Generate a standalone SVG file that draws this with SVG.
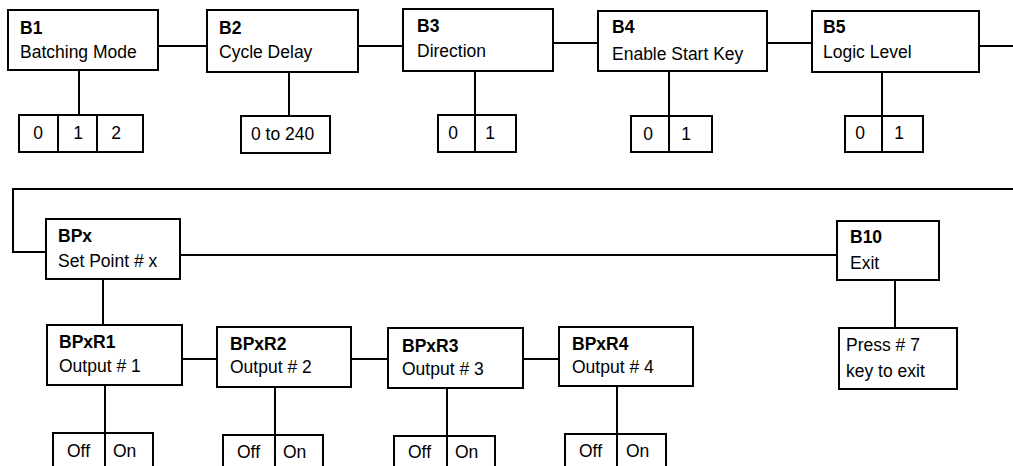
<svg xmlns="http://www.w3.org/2000/svg" width="1013" height="466" viewBox="0 0 1013 466">
<style>
rect{fill:#fff;stroke:#000;stroke-width:2}
line,polyline{stroke:#000;stroke-width:2;fill:none}
text{font-family:"Liberation Sans",Arial,sans-serif;font-size:17.5px;fill:#000}
.b{font-weight:bold}
.m{text-anchor:middle}
</style>
<rect x="0" y="0" width="1013" height="466" style="stroke:none"/>
<g id="connectors">
<line x1="158" y1="46" x2="207" y2="46"/>
<line x1="358" y1="46" x2="403" y2="46"/>
<line x1="553" y1="43" x2="598" y2="43"/>
<line x1="767" y1="43" x2="812" y2="43"/>
<line x1="979" y1="46" x2="1013" y2="46"/>
<line x1="79" y1="70" x2="79" y2="115"/>
<line x1="289" y1="72" x2="289" y2="116"/>
<line x1="475" y1="71" x2="475" y2="115"/>
<line x1="669" y1="71" x2="669" y2="116"/>
<line x1="882" y1="72" x2="882" y2="116"/>
<polyline points="1013,189 13,189 13,252 46,252"/>
<line x1="180" y1="255" x2="837" y2="255"/>
<line x1="895" y1="280" x2="895" y2="328"/>
<line x1="103" y1="279" x2="103" y2="325"/>
<line x1="182" y1="359" x2="217" y2="359"/>
<line x1="351" y1="359" x2="388" y2="359"/>
<line x1="523" y1="359" x2="559" y2="359"/>
<line x1="105" y1="385" x2="105" y2="433"/>
<line x1="275" y1="387" x2="275" y2="435"/>
<line x1="447" y1="388" x2="447" y2="436"/>
<line x1="617" y1="386" x2="617" y2="434"/>
</g>
<g id="B1"><rect x="8" y="10" width="150" height="60"/><text x="20" y="34" class="b">B1</text><text x="20" y="58">Batching Mode</text></g>
<g id="B1-options"><rect x="19" y="115" width="124" height="37"/><line x1="58" y1="115" x2="58" y2="152"/><line x1="97" y1="115" x2="97" y2="152"/><text x="38" y="139" class="m">0</text><text x="78" y="139" class="m">1</text><text x="116" y="139" class="m">2</text></g>
<g id="B2"><rect x="207" y="10" width="151" height="62"/><text x="219" y="34" class="b">B2</text><text x="219" y="58">Cycle Delay</text></g>
<g id="B2-options"><rect x="241" y="116" width="89" height="37"/><text x="251" y="140">0 to 240</text></g>
<g id="B3"><rect x="403" y="9" width="150" height="62"/><text x="417" y="32" class="b">B3</text><text x="417" y="57">Direction</text></g>
<g id="B3-options"><rect x="438" y="115" width="78" height="37"/><line x1="475" y1="115" x2="475" y2="152"/><text x="453" y="139" class="m">0</text><text x="490" y="139" class="m">1</text></g>
<g id="B4"><rect x="598" y="11" width="169" height="60"/><text x="612" y="33" class="b">B4</text><text x="612" y="60">Enable Start Key</text></g>
<g id="B4-options"><rect x="631" y="116" width="81" height="36"/><line x1="669" y1="116" x2="669" y2="152"/><text x="648" y="140" class="m">0</text><text x="686" y="140" class="m">1</text></g>
<g id="B5"><rect x="812" y="11" width="167" height="61"/><text x="823" y="33" class="b">B5</text><text x="823" y="58">Logic Level</text></g>
<g id="B5-options"><rect x="845" y="116" width="78" height="36"/><line x1="882" y1="116" x2="882" y2="152"/><text x="860" y="139" class="m">0</text><text x="899" y="139" class="m">1</text></g>
<g id="BPx"><rect x="46" y="219" width="134" height="60"/><text x="58" y="242" class="b">BPx</text><text x="58" y="267">Set Point # x</text></g>
<g id="B10"><rect x="837" y="221" width="102" height="59"/><text x="850" y="243" class="b">B10</text><text x="850" y="269">Exit</text></g>
<g id="B10-note"><rect x="839" y="328" width="118" height="61"/><text x="846" y="351">Press # 7</text><text x="846" y="377">key to exit</text></g>
<g id="BPxR1"><rect x="47" y="325" width="135" height="60"/><text x="59" y="348" class="b">BPxR1</text><text x="59" y="372">Output # 1</text></g>
<g id="BPxR1-options"><rect x="53" y="433" width="100" height="45"/><line x1="105" y1="433" x2="105" y2="478"/><text x="67" y="457">Off</text><text x="113" y="457">On</text></g>
<g id="BPxR2"><rect x="217" y="327" width="134" height="60"/><text x="230" y="350" class="b">BPxR2</text><text x="230" y="373">Output # 2</text></g>
<g id="BPxR2-options"><rect x="223" y="435" width="100" height="45"/><line x1="275" y1="435" x2="275" y2="480"/><text x="237" y="458">Off</text><text x="283" y="458">On</text></g>
<g id="BPxR3"><rect x="388" y="328" width="135" height="60"/><text x="402" y="352" class="b">BPxR3</text><text x="402" y="375">Output # 3</text></g>
<g id="BPxR3-options"><rect x="394" y="436" width="101" height="45"/><line x1="447" y1="436" x2="447" y2="481"/><text x="408" y="458">Off</text><text x="455" y="458">On</text></g>
<g id="BPxR4"><rect x="559" y="327" width="134" height="59"/><text x="572" y="350" class="b">BPxR4</text><text x="572" y="373">Output # 4</text></g>
<g id="BPxR4-options"><rect x="565" y="434" width="101" height="45"/><line x1="617" y1="434" x2="617" y2="479"/><text x="579" y="457">Off</text><text x="626" y="457">On</text></g>
</svg>
